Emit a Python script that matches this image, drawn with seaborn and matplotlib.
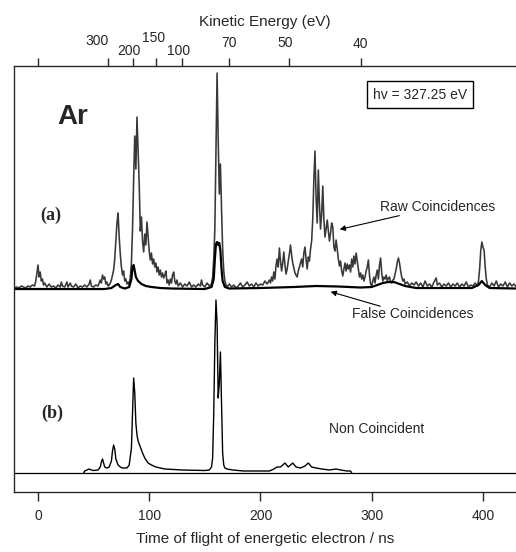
import numpy as np
import pandas as pd
import seaborn as sns
import matplotlib.pyplot as plt

# ---- data (time of flight in ns, counts in arb. units) ----
raw_tof = [-21, -19, -17, -15, -13, -11, -9, -7, -5, -3,
           -2, -1, 0, 1, 2, 3, 4, 5, 6, 8, 10, 12, 14, 16, 18, 20,
           21, 22, 24, 26, 27, 29, 30, 32, 34, 36, 38, 40, 42, 44, 46,
           47, 48, 50, 52, 54,
           56, 57, 58, 59, 60, 61, 62, 63, 64, 65,
           66, 67, 68, 69, 70, 71, 72, 73, 74, 75,
           76, 77, 78, 79, 80, 81, 82, 83, 84, 85,
           86, 87, 88, 89, 90, 91, 92, 93, 94, 95,
           96, 97, 98, 99, 100, 101, 102, 103, 104, 105,
           106, 107, 108, 109, 110, 111, 112, 113, 114, 115,
           116, 117, 118, 119, 120, 121, 122, 123, 124, 125,
           126, 128, 130, 132, 134, 136, 138, 140, 142, 144, 146, 147, 148, 150, 152, 154, 156,
           157, 158, 159, 160, 161, 162, 163, 164, 165, 166, 167, 168, 169, 170,
           172, 174, 176, 178, 180, 182, 184, 186, 188, 190, 192, 194, 196, 198, 200, 202, 204, 206,
           208, 209, 210, 211, 212, 213, 214, 215, 216, 217,
           218, 219, 220, 221, 222, 223, 224, 225, 226, 227,
           228, 229, 230, 231, 232, 233, 234, 235, 236, 237,
           238, 239, 240, 241, 242, 243, 244, 245, 246, 247,
           248, 249, 250, 251, 252, 253, 254, 255, 256, 257,
           258, 259, 260, 261, 262, 263, 264, 265, 266, 267,
           268, 269, 270, 271, 272, 273, 274, 275, 276, 277,
           278, 279, 280, 281, 282, 283, 284, 285, 286, 287,
           288, 289, 290, 291, 292, 293, 294, 295, 296, 297,
           298, 299, 300, 301, 302, 303, 304, 305, 306, 307,
           308, 309, 310, 311, 312, 313, 314, 315, 316, 317,
           318, 319, 320, 321, 322, 323, 324, 325, 326, 327,
           328, 329, 330,
           332, 334, 336, 338, 340, 342, 344, 346, 348, 350, 352, 354, 356, 358,
           359, 361, 363, 365, 367, 369, 371, 373, 375, 377, 379, 381, 383, 385, 387, 389, 391, 393, 395,
           396, 397, 398, 399, 400, 401, 402, 403, 404,
           406, 408, 410, 412, 414, 416, 418, 420, 422, 424, 426, 428, 430]
raw_counts = [1, 2, 1, 3, 2, 1, 3, 2, 4, 3,
              8, 15, 24, 12, 17, 8, 10, 4, 6, 2, 5, 2, 3, 1, 4, 2,
              7, 3, 2, 7, 2, 6, 3, 2, 5, 1, 3, 2, 4, 2, 5,
              9, 3, 2, 4, 3,
              9, 6, 14, 10, 12, 5, 7, 3, 4, 6,
              9, 14, 19, 30, 48, 66, 76, 52, 35, 22,
              14, 18, 8, 10, 5, 7, 4, 12, 26, 60,
              110, 153, 120, 172, 140, 105, 58, 72, 48, 37,
              55, 44, 67, 52, 38, 29, 36, 25, 30, 22,
              26, 17, 22, 14, 19, 12, 16, 11, 14, 18,
              6, 9, 4, 10, 6, 14, 17, 8, 5, 9,
              3, 6, 2, 5, 3, 7, 2, 4, 2, 5, 3, 9, 4, 2, 6, 3, 5,
              12, 30, 60, 140, 216, 150, 95, 125, 80, 40, 18, 8, 4, 2,
              5, 2, 4, 1, 3, 6, 2, 4, 7, 3, 5, 2, 6, 3, 5, 4, 8, 5,
              9, 6, 12, 8, 17, 10, 24, 30, 22, 41,
              28, 18, 26, 37, 24, 15, 20, 28, 35, 44,
              34, 26, 21, 16, 14, 12, 18, 22, 26, 30,
              22, 36, 42, 30, 20, 32, 28, 40, 48, 70,
              110, 138, 90, 66, 119, 85, 60, 75, 103, 70,
              52, 60, 69, 58, 48, 56, 66, 62, 42, 38,
              49, 40, 30, 23, 28, 18, 13, 20, 26, 18,
              25, 20, 24, 17, 30, 22, 33, 25, 36, 28,
              20, 12, 16, 10, 14, 8, 12, 18, 22, 29,
              14, 5, 3, 8, 12, 6, 14, 19, 10, 24,
              31, 16, 8, 12, 10, 14, 8, 11, 12, 7,
              6, 9, 10, 15, 20, 27, 31, 26, 18, 12,
              8, 10, 5,
              7, 3, 6, 4, 7, 3, 6, 2, 8, 3, 5, 2, 7, 11,
              4, 6, 2, 5, 3, 6, 2, 5, 3, 6, 2, 5, 3, 7, 2, 4, 3, 6, 3,
              8, 20, 38, 47, 42, 39, 22, 10, 4,
              2, 6, 3, 8, 2, 5, 3, 7, 2, 6, 3, 5, 2]

false_tof = [-21, 60, 66, 70, 72, 74, 78, 82, 84, 85, 86, 87, 88, 90, 93, 97, 102, 110, 120,
             150, 156, 158, 159, 160, 161, 162, 163, 164, 165, 166, 168, 172,
             200, 230, 250, 270, 290, 300, 305, 310, 315, 320, 325, 330, 340,
             390, 396, 399, 402, 406, 430]
false_counts = [0, 0, 1, 4, 5, 2, 0.5, 2, 10, 22, 24, 18, 12, 8, 5, 3, 2, 1, 0.5,
                0, 2, 10, 30, 45, 47, 44, 46, 38, 20, 8, 2, 0.5,
                1, 2, 3, 2.5, 1.5, 2, 4, 6, 7, 7, 5, 3, 1,
                1, 4, 8, 4, 1, 0.5]

noncoinc_tof = [41, 42, 44, 46, 48, 50, 54, 56, 57, 58, 59, 60, 62, 64, 66, 67, 68, 69, 70,
                72, 74, 76, 78, 80, 82, 84, 85, 86, 87, 88, 89, 90, 92, 94, 96, 99, 102,
                106, 114, 130, 150, 154, 156, 157, 158, 159, 160, 161, 162, 163, 164,
                165, 166, 167, 168, 170, 175, 185, 200, 208, 212, 215, 218, 222, 225,
                229, 232, 236, 240, 243, 246, 250, 255, 262, 268, 272, 278, 281, 282]
noncoinc_counts = [0, 2, 3, 4, 3, 2.5, 3, 6, 11, 14, 10, 6, 5, 6, 12, 22, 28, 24, 14,
                   8, 6, 5, 5, 5, 8, 25, 60, 95, 80, 50, 38, 32, 26, 20, 15, 10, 8,
                   6, 4, 3, 2.5, 3, 6, 15, 60, 130, 173, 150, 75, 90, 121,
                   70, 20, 8, 5, 4, 3, 2, 2, 2, 4, 6, 6, 10, 6,
                   10, 6, 5, 7, 10, 6, 5, 4, 3, 4, 3, 2, 2, 0]

tof_ticks = [0, 100, 200, 300, 400]
ke_labels = ['', '300', '200', '150', '100', '70', '50', '40']
ke_tof = [0, 62.7, 85.1, 105.8, 129.2, 171.4, 225.3, 290.3]

# ---- plotting ----
sns.set_style('ticks')
plt.rcParams['font.family'] = ['Liberation Sans', 'DejaVu Sans']

raw = pd.DataFrame({'tof': raw_tof, 'counts': raw_counts})
false = pd.DataFrame({'tof': false_tof, 'counts': false_counts})
nonc = pd.DataFrame({'tof': noncoinc_tof, 'counts': noncoinc_counts})

off_a = 203   # vertical offset of panel (a)
off_b = 19    # vertical offset of panel (b)
raw['y'] = raw['counts'] + off_a
false['y'] = false['counts'] + off_a
nonc['y'] = nonc['counts'] + off_b

fig = plt.figure(figsize=(5.16, 5.52), dpi=100)
ax = fig.add_axes([0.0281, 0.1087, 0.9719, 0.7717])

sns.lineplot(data=raw, x='tof', y='y', ax=ax, color='#383838', lw=1.15,
             estimator=None, sort=False)
sns.lineplot(data=false, x='tof', y='y', ax=ax, color='black', lw=1.6,
             estimator=None, sort=False)
ax.axhline(off_b, color='black', lw=0.9)
sns.lineplot(data=nonc, x='tof', y='y', ax=ax, color='black', lw=1.0,
             estimator=None, sort=False)

ax.set_xlim(-21.1, 429.7)
ax.set_ylim(0, 426)
ax.set_yticks([])
ax.set_ylabel('')
ax.set_xticks(tof_ticks)
ax.tick_params(axis='x', direction='out', length=6.5, width=1, pad=6, labelsize=10)
ax.set_xlabel('Time of flight of energetic electron / ns', fontsize=11, labelpad=6)
ax.spines['right'].set_visible(False)
for s in ['left', 'bottom', 'top']:
    ax.spines[s].set_linewidth(0.9)
    ax.spines[s].set_color('#222222')

# kinetic energy axis on top
ax2 = ax.twiny()
ax2.set_xlim(ax.get_xlim())
ax2.set_xticks(ke_tof)
ax2.set_xticklabels([''] * len(ke_tof))
ax2.tick_params(axis='x', direction='out', length=6, width=1, pad=2)
ax2.spines['right'].set_visible(False)
# staggered labels, offsets in pixels (dx, dy) above the frame
lab_off = [(0, 0), (-11, 25), (-4, 15), (-2, 28.5), (-3, 15), (0, 23.5), (-3, 23.5), (-1, 22)]
for t, lab, (dx, dy) in zip(ke_tof, ke_labels, lab_off):
    if lab:
        ax2.annotate(lab, xy=(t, 1), xycoords=ax2.get_xaxis_transform(),
                     xytext=(dx, dy), textcoords='offset pixels',
                     ha='center', va='center', fontsize=10)
ax2.set_xlabel('Kinetic Energy (eV)', fontsize=11, labelpad=21)

# labels and annotations
ax.text(31.5, 375, 'Ar', fontsize=20, fontweight='bold', ha='center', va='center')
ax.text(11.7, 277, '(a)', fontsize=13, fontweight='bold', ha='center', va='center',
        family=['Liberation Serif', 'DejaVu Serif'])
ax.text(12.6, 79, '(b)', fontsize=13, fontweight='bold', ha='center', va='center',
        family=['Liberation Serif', 'DejaVu Serif'])
ax.text(343.4, 397.5, 'hv = 327.25 eV', fontsize=10, ha='center', va='center',
        bbox=dict(boxstyle='square,pad=0.45', fc='white', ec='black', lw=1.0))
ax.text(359.6, 285, 'Raw Coincidences', fontsize=10, ha='center', va='center')
ax.annotate('', xy=(268.8, 262), xytext=(327.2, 277),
            arrowprops=dict(arrowstyle='-|>', lw=0.8, color='black', mutation_scale=8))
ax.text(337.1, 178, 'False Coincidences', fontsize=10, ha='center', va='center')
ax.annotate('', xy=(260.7, 201), xytext=(310.1, 185),
            arrowprops=dict(arrowstyle='-|>', lw=0.8, color='black', mutation_scale=8))
ax.text(304.7, 63, 'Non Coincident', fontsize=10, ha='center', va='center')

fig.savefig('out.png', dpi=100)
